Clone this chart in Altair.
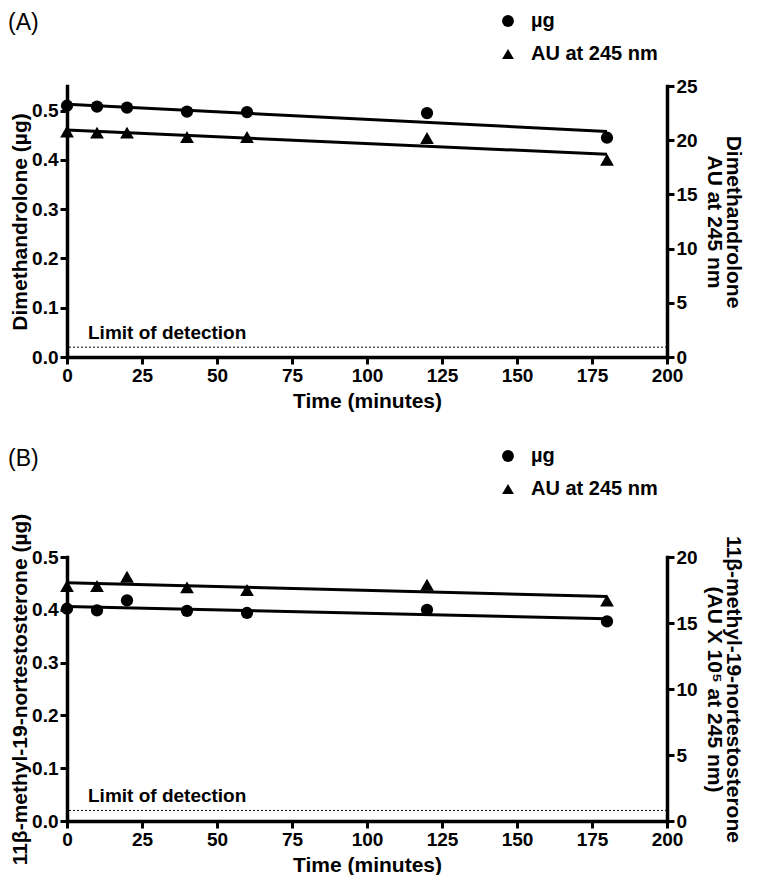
import altair as alt
import pandas as pd

# ---------------- data ----------------
TIME_MIN = [0, 10, 20, 40, 60, 120, 180]

# Panel A: Dimethandrolone
A_UG = [0.510, 0.508, 0.506, 0.498, 0.497, 0.495, 0.445]
A_AU = [20.8, 20.7, 20.7, 20.3, 20.3, 20.2, 18.2]

# Panel B: 11beta-methyl-19-nortestosterone
B_UG = [0.402, 0.399, 0.418, 0.398, 0.394, 0.400, 0.378]
B_AU = [17.8, 17.8, 18.5, 17.7, 17.5, 17.9, 16.7]

SERIES = ["µg", "AU at 245 nm"]
X_TICKS = [0, 25, 50, 75, 100, 125, 150, 175, 200]
LEFT_TICKS = [0.0, 0.1, 0.2, 0.3, 0.4, 0.5]
A_RIGHT_TICKS = [0, 5, 10, 15, 20, 25]
B_RIGHT_TICKS = [0, 5, 10, 15, 20]
LOD = 0.02
LOD_LABEL = "Limit of detection"
LOD_LABEL_T = 7
FIT_EXTENT = [0, 180]

FONT = "Liberation Sans, Arial, Helvetica, sans-serif"


def panel(tag, ug, au, left_title, right_title, left_max, right_max,
          right_ticks, height, legend_y, tag_y):
    df_ug = pd.DataFrame({"t": TIME_MIN, "v": ug, "series": SERIES[0]})
    df_au = pd.DataFrame({"t": TIME_MIN, "v": au, "series": SERIES[1]})
    lod_df = pd.DataFrame({"t": [LOD_LABEL_T], "v": [LOD], "label": [LOD_LABEL]})
    tag_df = pd.DataFrame({"label": [tag]})

    x = alt.X("t:Q", scale=alt.Scale(domain=[0, 200], nice=False, zero=False),
              axis=alt.Axis(values=X_TICKS, title="Time (minutes)"))
    yl = alt.Y("v:Q", scale=alt.Scale(domain=[0, left_max], nice=False, zero=False),
               axis=alt.Axis(values=LEFT_TICKS, format=".1f", title=left_title,
                             orient="left", titlePadding=1))
    yr = alt.Y("v:Q", scale=alt.Scale(domain=[0, right_max], nice=False, zero=False),
               axis=alt.Axis(values=right_ticks, format="d", title=right_title,
                             orient="right", titleLineHeight=19, titleFontSize=21,
                             titlePadding=6))
    shape = alt.Shape("series:N",
                      scale=alt.Scale(domain=SERIES, range=["circle", "triangle-up"]),
                      legend=alt.Legend(orient="none", legendX=431, legendY=legend_y,
                                        title=None, padding=0))

    lod_rule = alt.Chart(lod_df).mark_rule(
        strokeDash=[2, 2], strokeWidth=1, color="black").encode(y=yl)
    lod_text = alt.Chart(lod_df).mark_text(
        align="left", baseline="bottom", dy=-4, fontSize=19, fontWeight="bold",
        font=FONT, color="black").encode(x=x, y=yl, text="label:N")
    line_ug = alt.Chart(df_ug).transform_regression(
        "t", "v", extent=FIT_EXTENT).mark_line(
        color="black", strokeWidth=3).encode(x=x, y=yl)
    pts_ug = alt.Chart(df_ug).mark_point(
        filled=True, size=150, color="black", opacity=1).encode(x=x, y=yl, shape=shape)
    tag_text = alt.Chart(tag_df).mark_text(
        align="left", baseline="top", fontSize=23, font=FONT,
        color="black").encode(x=alt.value(-59), y=alt.value(tag_y), text="label:N")

    line_au = alt.Chart(df_au).transform_regression(
        "t", "v", extent=FIT_EXTENT).mark_line(
        color="black", strokeWidth=3).encode(x=x, y=yr)
    pts_au = alt.Chart(df_au).mark_point(
        filled=True, size=190, color="black", opacity=1).encode(x=x, y=yr, shape=shape)

    left = alt.layer(lod_rule, line_ug, pts_ug, lod_text, tag_text)
    right = alt.layer(line_au, pts_au)
    return alt.layer(left, right).resolve_scale(y="independent").properties(
        width=600, height=height)


panel_a = panel("(A)", A_UG, A_AU, "Dimethandrolone (µg)",
                ["Dimethandrolone", "AU at 245 nm"], 0.55, 25, A_RIGHT_TICKS,
                271, -75, -74)
panel_b = panel("(B)", B_UG, B_AU, "11β-methyl-19-nortestosterone (µg)",
                ["11β-methyl-19-nortestosterone", "(AU X 10⁵ at 245 nm)"], 0.5, 20,
                B_RIGHT_TICKS, 264, -111, -109)

chart = alt.vconcat(
    panel_a, panel_b, spacing=35, background="white",
    padding={"left": 0, "top": 3, "right": 6, "bottom": 0}
).resolve_scale(shape="independent").resolve_legend(
    shape="independent").configure_view(stroke=None).configure_axis(
    grid=False, domainColor="black", domainWidth=3.5, domainCap="square",
    tickColor="black", tickWidth=3, tickSize=7, labelPadding=2, labelFlush=False,
    labelFont=FONT, labelFontSize=19, labelFontWeight="bold", labelColor="black",
    titleFont=FONT, titleFontSize=21, titleFontWeight="bold", titleColor="black"
).configure_axisX(titleFontSize=21, titlePadding=5).configure_legend(
    labelFont=FONT, labelFontSize=20, labelFontWeight="bold", labelColor="black",
    symbolSize=140, symbolFillColor="black", symbolStrokeColor="black",
    symbolStrokeWidth=0, rowPadding=13, labelOffset=13)

chart.save("out.html", embed_options={"renderer": "svg", "actions": False})
